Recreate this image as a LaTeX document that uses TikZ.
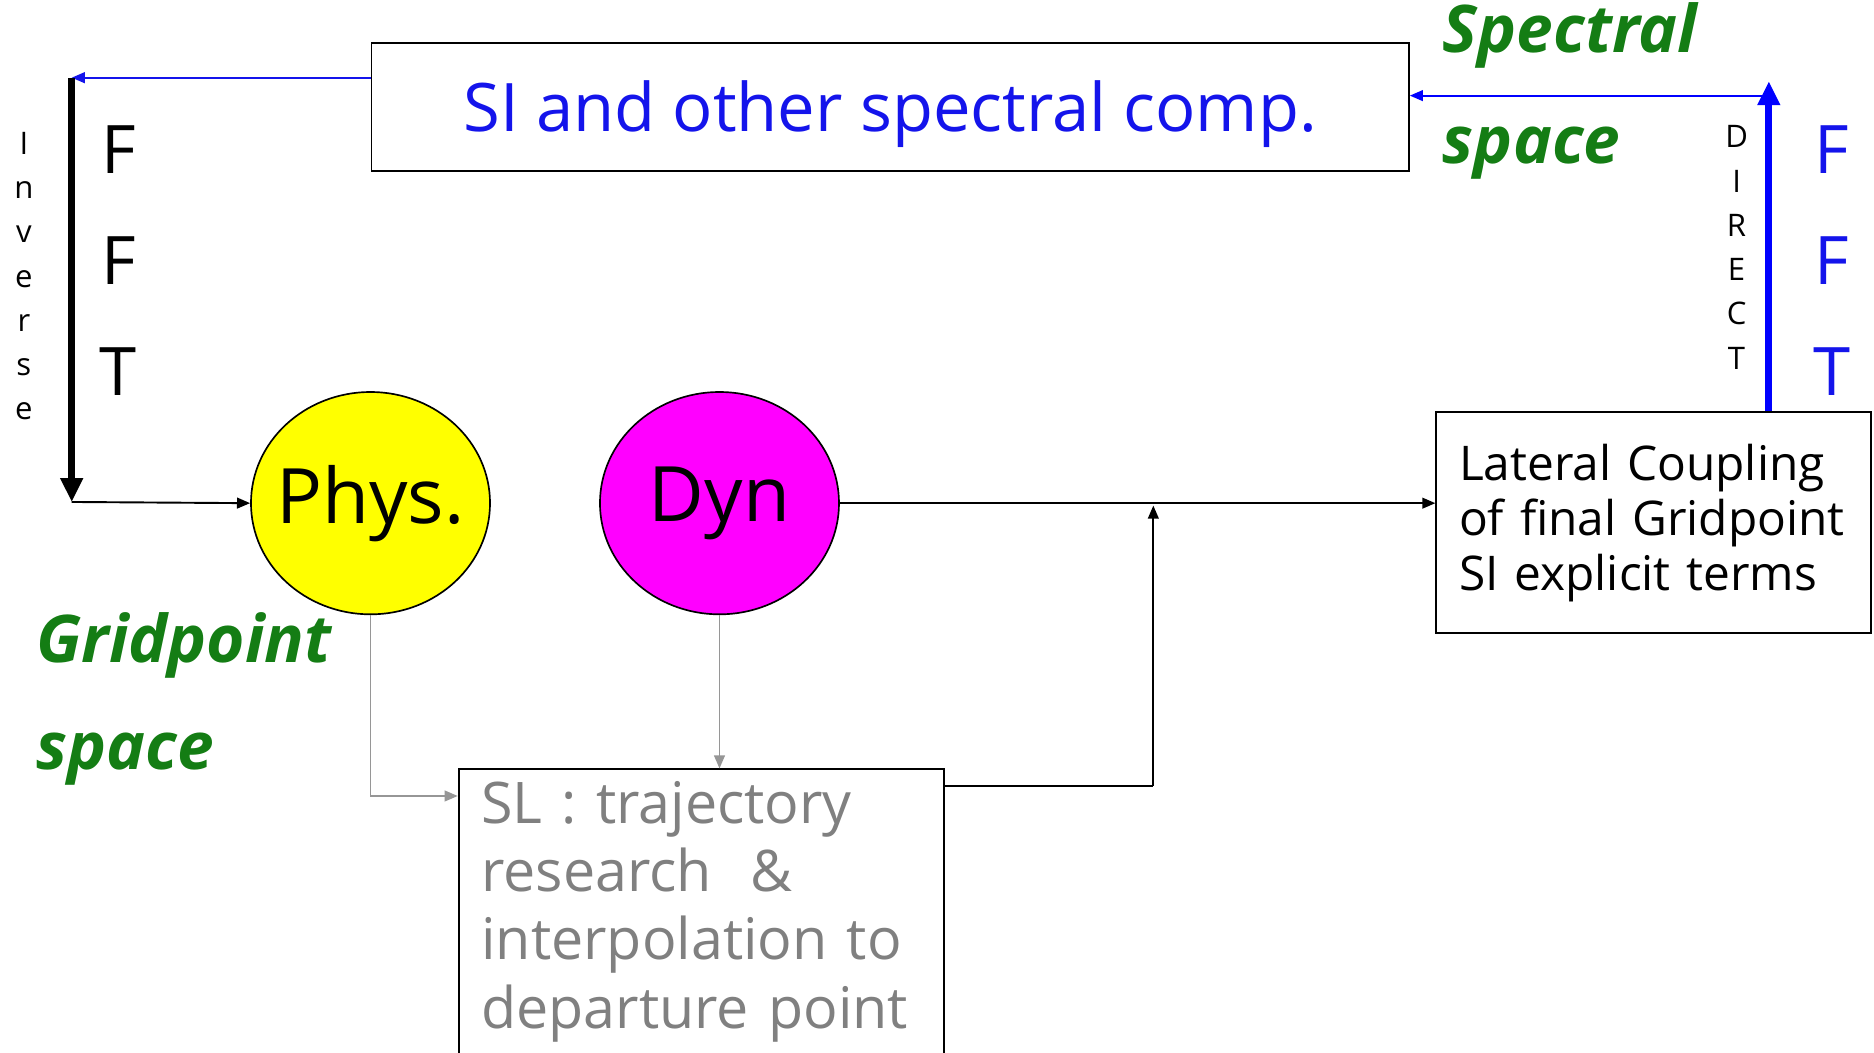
\documentclass[tikz,border=0pt]{standalone}
\usepackage{fontspec}
\setmainfont{Open Sans}
\usetikzlibrary{arrows.meta,shapes.geometric}
\definecolor{myblue}{RGB}{20,20,235}
\definecolor{mygreen}{RGB}{20,125,20}
\definecolor{mygray}{RGB}{128,128,128}
\definecolor{lgray}{RGB}{150,150,150}
\definecolor{mymag}{RGB}{255,0,255}
\definecolor{myyel}{RGB}{255,255,0}
\begin{document}
\begin{tikzpicture}[x=1pt,y=-1pt,
  boxstyle/.style={draw=black,line width=1.6pt,rectangle,inner sep=0pt},
  blob/.style={ellipse,draw=black,line width=1.4pt,minimum width=200pt,minimum height=186pt,inner sep=0pt,font=\fontsize{64}{70}\selectfont},
  thin arrow/.style={line width=1.6pt,-{Triangle[length=11pt,width=9pt]}},
  thick arrow/.style={line width=6pt,-{Triangle[length=20pt,width=18pt]}},
  green label/.style={text=mygreen,font=\fontsize{55}{60}\selectfont\bfseries\itshape,inner sep=0pt},
  small stack/.style={align=center,font=\fontsize{26}{37}\selectfont,inner sep=0pt},
  fft stack/.style={align=center,font=\fontsize{56}{93}\selectfont,inner sep=0pt}
]
\useasboundingbox (0,0) rectangle (1568,881);
\fill[white] (0,0) rectangle (1568,881);

% boxes
\node[boxstyle,minimum width=868pt,minimum height=107pt,anchor=north west,
  text=myblue,font=\fontsize{56}{62}\selectfont] (top) at (310,35) {\raisebox{-21pt}[0pt][0pt]{SI and other spectral comp.}};
\node[boxstyle,minimum width=364pt,minimum height=185pt,anchor=north west,
  align=left,text width=326pt,inner xsep=19pt,font=\fontsize{40}{46}\selectfont] (lat) at (1201,344)
  {Lateral Coupling\\of final Gridpoint\\SI explicit terms};
\node[boxstyle,minimum width=406pt,minimum height=238pt,anchor=north west,
  align=left,text width=368pt,inner xsep=19pt,text=mygray,font=\fontsize{48}{57}\selectfont] (sl) at (383,643)
  {SL : trajectory\\research~~\&\\interpolation to\\departure point};

% ellipses
\node[blob,fill=myyel] (phys) at (310,421) {\makebox[0pt]{Phys.}};
\node[blob,fill=mymag] (dyn) at (602,421) {\makebox[0pt]{Dyn}};

% coordinates
\coordinate (invtop) at (60,65);
\coordinate (invbot) at (60,420);
\coordinate (dirtop) at (1480,68);
\coordinate (dirjoin) at (1480,80);
\coordinate (jb) at (965,658);
\coordinate (jt) at (965,423);
\coordinate (pbend) at (310,666);

% connectors
\draw[thin arrow,myblue] (top.west |- invtop) -- (invtop);
\draw[thick arrow,black] (invtop) -- (invbot);
\draw[thin arrow] (invbot) -- (phys.west);
\draw[thin arrow] (dyn.east) -- (lat.west |- dyn.east);
\draw[line width=1.6pt] (sl.east |- jb) -- (jb);
\draw[thin arrow] (jb) -- (jt);
\draw[thin arrow,lgray] (phys.south) -- (pbend) -- (sl.west |- pbend);
\draw[thin arrow,lgray] (dyn.south) -- (sl.north -| dyn.south);
\draw[thick arrow,blue] (lat.north -| dirtop) -- (dirtop);
\draw[thin arrow,blue] (dirjoin) -- (top.east |- dirjoin);

% labels
\node[small stack] (inverse) at (20,231) {I\\n\\v\\e\\r\\s\\e};
\node[fft stack] (fftl) at (99,218) {F\\F\\T};
\node[small stack] (direct) at (1453,207) {D\\I\\R\\E\\C\\T};
\node[fft stack,text=myblue] (fftr) at (1533,218) {F\\F\\T};
\node[green label,anchor=west] (spec) at (1207,30) {Spectral};
\node[green label,anchor=west] (spsp) at (1207,128) {space};
\node[green label,anchor=west] (grid) at (30,540) {Gridpoint};
\node[green label,anchor=west] (grsp) at (30,635) {space};
\end{tikzpicture}
\end{document}
